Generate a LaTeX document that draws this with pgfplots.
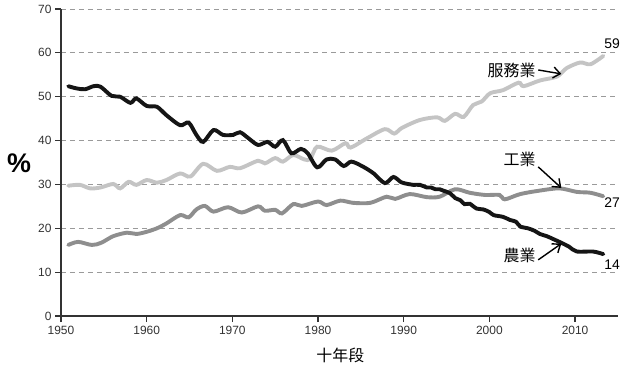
\documentclass[border=0pt]{standalone}
\usepackage{pgfplots}
\pgfplotsset{compat=1.18}
\usepackage{fontspec}
\setmainfont{Liberation Sans}
\newfontfamily\cjk{Noto Sans CJK TC}
\usetikzlibrary{arrows.meta}
\definecolor{agri}{HTML}{151515}
\definecolor{serv}{HTML}{C4C4C4}
\definecolor{indu}{HTML}{8E8E8E}
\definecolor{gridc}{HTML}{9A9A9A}
\definecolor{axc}{HTML}{333333}

\pgfplotstableread{
x y
1950.85 52.4
1951.8 51.9
1952.8 51.7
1953.8 52.4
1954.6 52.3
1955.9 50.2
1956.9 50.0
1958.1 48.6
1958.8 49.6
1960.0 47.9
1961.2 47.7
1962.3 45.8
1963.9 43.5
1964.9 44.1
1965.8 41.3
1966.6 39.7
1967.8 42.4
1968.9 41.3
1970.1 41.3
1970.9 41.9
1971.9 40.5
1973.0 39.0
1974.1 39.7
1975.0 38.6
1975.9 40.1
1976.9 37.1
1978.0 38.1
1978.8 37.1
1979.9 33.9
1981.0 35.7
1982.0 35.7
1983.0 34.2
1983.9 35.2
1985.3 34.0
1986.5 32.5
1987.8 30.3
1988.8 31.7
1989.7 30.5
1990.5 30.1
1991.1 29.9
1991.9 29.9
1992.7 29.3
1993.2 29.3
1993.7 28.9
1994.2 28.9
1994.6 28.6
1995.4 28.0
1996.0 26.9
1996.6 26.4
1997.1 25.5
1997.7 25.6
1998.5 24.5
1999.3 24.3
2000.0 23.7
2000.5 23.0
2001.6 22.6
2002.4 21.9
2003.1 21.5
2003.6 20.4
2004.5 20.0
2005.3 19.4
2005.9 18.7
2006.7 18.2
2007.5 17.5
2008.4 16.7
2009.3 15.8
2010.2 14.7
2012.1 14.7
2013.3 14.1
}\agri

\pgfplotstableread{
x y
1950.85 29.7
1952.2 29.9
1953.4 29.1
1954.6 29.3
1956.1 30.1
1956.9 29.1
1957.9 30.6
1958.8 29.9
1960.0 31.0
1961.2 30.4
1962.3 31.0
1963.9 32.5
1965.1 31.8
1966.6 34.7
1968.2 33.1
1969.7 34.0
1970.9 33.7
1973.0 35.4
1973.8 34.8
1975.0 36.0
1975.9 35.2
1977.1 36.7
1978.4 35.7
1979.1 35.8
1979.9 38.6
1981.6 37.7
1983.2 39.4
1983.8 38.4
1985.7 40.5
1987.8 42.6
1988.9 41.6
1989.8 42.9
1991.9 44.7
1993.9 45.3
1994.8 44.5
1996.0 46.1
1997.0 45.4
1998.1 48.1
1999.1 48.9
2000.1 50.8
2001.6 51.5
2003.4 53.2
2004.0 52.4
2005.9 53.7
2007.9 54.6
2009.0 56.5
2010.6 57.8
2011.8 57.4
2013.3 59.3
}\serv

\pgfplotstableread{
x y
1950.85 16.2
1952.0 16.9
1953.6 16.2
1954.7 16.7
1956.1 18.2
1957.7 19.0
1958.8 18.7
1960.0 19.2
1961.2 20.0
1962.3 21.1
1963.9 23.0
1964.9 22.5
1965.8 24.3
1966.8 25.1
1967.8 23.8
1969.5 24.8
1971.1 23.6
1973.0 25.0
1973.8 24.0
1975.0 24.2
1975.8 23.4
1977.1 25.5
1978.1 25.1
1980.0 26.1
1981.0 25.3
1982.6 26.3
1984.1 25.8
1986.1 25.8
1988.0 27.2
1989.0 26.7
1990.7 27.8
1992.7 27.1
1994.2 27.2
1996.0 28.9
1997.7 28.1
1999.5 27.6
2001.2 27.6
2001.8 26.6
2003.6 27.8
2005.9 28.6
2008.2 29.1
2010.2 28.3
2011.8 28.1
2013.3 27.3
}\indu

\begin{document}
\begin{tikzpicture}
\begin{axis}[
  at={(0,0)}, anchor=south west,
  scale only axis,
  width=556.9bp, height=307bp,
  xmin=1950, xmax=2015, ymin=0, ymax=70,
  axis lines=left,
  axis line style={-, color=axc, line width=1.3bp},
  xtick={1950,1960,...,2010},
  ytick={0,10,...,70},
  tick align=outside,
  major tick length=6bp,
  tick style={color=axc, line width=1.2bp},
  ymajorgrids,
  grid style={color=gridc, dash pattern=on 5bp off 4bp, line width=0.9bp},
  /pgf/number format/assume math mode=true,
  /pgf/number format/set thousands separator={},
  tick label style={font=\fontsize{12}{14}\selectfont, text=axc},
  xticklabel style={yshift=-1bp},
  clip=false,
]
\addplot[serv, line width=3.9bp, smooth, line cap=round] table {\serv};
\addplot[indu, line width=3.9bp, smooth, line cap=round] table {\indu};
\addplot[agri, line width=3.9bp, smooth, line cap=round] table {\agri};

\node[font=\cjk\fontsize{16}{18}\selectfont, anchor=east, inner sep=0pt] at (axis cs:2005.4,56.1) {服務業};
\node[font=\cjk\fontsize{16}{18}\selectfont, anchor=east, inner sep=0pt] at (axis cs:2005.4,35.7) {工業};
\node[font=\cjk\fontsize{16}{18}\selectfont, anchor=east, inner sep=0pt] at (axis cs:2005.4,13.8) {農業};
\draw[line width=1.4bp, -{Straight Barb[length=7bp,width=11bp]}] (axis cs:2005.7,56.1) -- (axis cs:2008.4,55.2);
\draw[line width=1.4bp, -{Straight Barb[length=7bp,width=11bp]}] (axis cs:2005.7,34.0) -- (axis cs:2008.4,29.2);
\draw[line width=1.4bp, -{Straight Barb[length=7bp,width=11bp]}] (axis cs:2005.7,12.8) -- (axis cs:2008.4,16.5);
\node[font=\fontsize{14}{16}\selectfont, anchor=west, inner sep=0pt] at (axis cs:2013.4,62.0) {59};
\node[font=\fontsize{14}{16}\selectfont, anchor=west, inner sep=0pt] at (axis cs:2013.4,25.9) {27};
\node[font=\fontsize{14}{16}\selectfont, anchor=west, inner sep=0pt] at (axis cs:2013.4,11.6) {14};
\node[font=\bfseries\fontsize{27}{29}\selectfont, inner sep=0pt] at (axis cs:1945.1,34.9) {\%};
\node[font=\cjk\fontsize{16}{18}\selectfont, inner sep=0pt] at (axis cs:1982.6,-8.9) {十年段};
\end{axis}
\pgfresetboundingbox
\path[use as bounding box] (-61bp,-55bp) rectangle (567bp,316bp);
\end{tikzpicture}
\end{document}
